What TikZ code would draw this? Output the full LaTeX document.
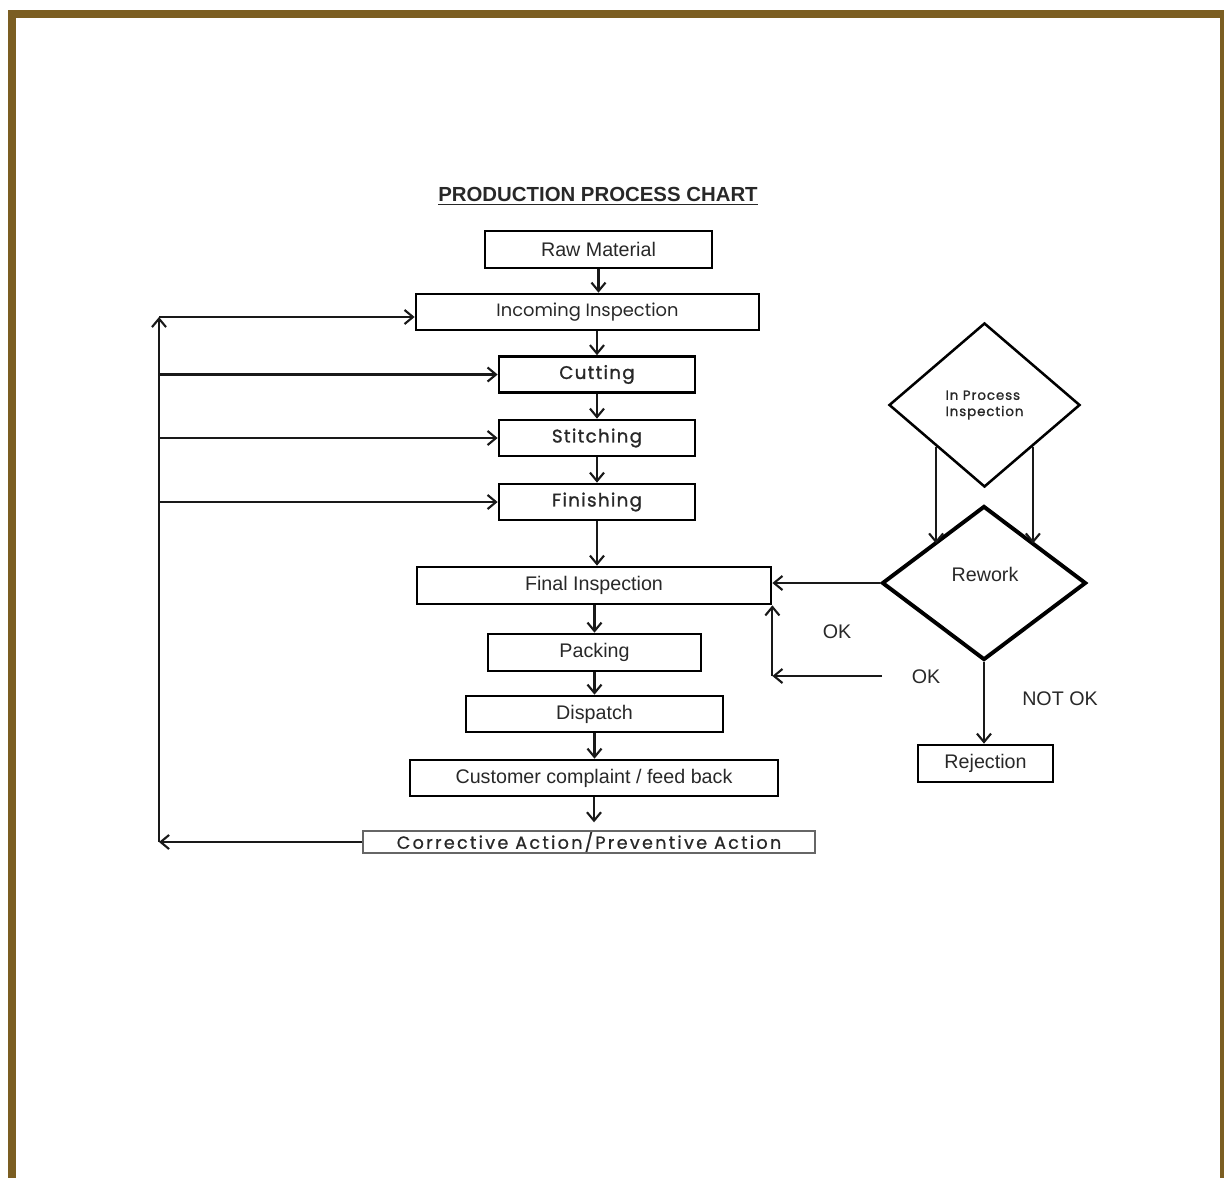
\documentclass[tikz,border=0pt]{standalone}
\usepackage{fontspec}
\setmainfont{Liberation Sans}
\newfontfamily\gothic{Poppins}
\newfontfamily\gothicstep[LetterSpace=7,FakeBold=1.2]{Poppins}
\newfontfamily\gothicwide[LetterSpace=13,FakeBold=0.8]{Poppins}
\usepackage{xcolor}
\usepackage{tikz}
\usetikzlibrary{arrows.meta}
\usetikzlibrary{shapes.geometric,calc}
\definecolor{frame brown}{RGB}{123,94,34}
\definecolor{ink}{RGB}{40,40,40}
\tikzset{
	>={Straight Barb[length=6pt,width=10pt]},
	box/.style = {
			draw            = black,
			line width      = 1.9pt,
			minimum height  = 0.9cm,
			inner sep       = 0pt,
			text            = ink,
			font            = \fontsize{14}{16}\selectfont,
		},
	gothic box/.style = {
			box,
			font            = \gothic\fontsize{12.7}{14}\selectfont,
		},
	step box/.style = {
			box,
			minimum width   = 4.9cm,
			font            = \gothicstep\fontsize{13}{15}\selectfont,
		},
	decision/.style = {
			diamond,
			draw            = black,
			inner sep       = 0pt,
			text            = ink,
		},
	flow/.style = {->, draw=black!90, line width=1.5pt},
	note/.style = {text=ink, font=\fontsize{14}{16}\selectfont},
}

\begin{document}
\begin{tikzpicture}[x=0.025cm,y=-0.025cm]
			% Frame
			\useasboundingbox (0,0) rectangle (1224,1178);
			\fill[frame brown] (8,10) rectangle (1224,18);
			\fill[frame brown] (8,10) rectangle (16,1178);
			\fill[frame brown] (1220,10) rectangle (1224,1178);

			% Main flow
			\node[note,font=\bfseries\fontsize{14.5}{16}\selectfont] (Title) at (598,196)
			{\underline{PRODUCTION PROCESS CHART}};
			\node[box,minimum width=5.675cm,minimum height=0.925cm] (Raw material) at (598.5,249.5) {Raw Material};
			\node[gothic box,minimum width=8.575cm] (Incoming inspection) at (587.5,312) {Incoming Inspection};
			\node[step box] (Cutting) at (597,374.5) {Cutting};
			\node[step box] (Stitching) at (597,438) {Stitching};
			\node[step box] (Finishing) at (597,502) {Finishing};
			\node[box,minimum width=8.85cm,minimum height=0.925cm] (Final inspection) at (594,585.5)
			{Final Inspection};
			\node[box,minimum width=5.325cm,minimum height=0.925cm] (Packing) at (594.5,652.5) {Packing};
			\node[box,minimum width=6.425cm] (Dispatch) at (594.5,714) {Dispatch};
			\node[box,minimum width=9.2cm] (Customer complaint) at (594,778)
			{Customer complaint / feed back};
			\node[box,draw=black!60,line width=1pt,minimum width=11.3cm,minimum height=0.55cm,
				font=\gothicwide\fontsize{12.5}{14}\selectfont]
			(Corrective action) at (589,842) {Corrective Action/Preventive Action};

			% Inspection loop
			\node[decision,line width=1.8pt,minimum width=4.775cm,minimum height=4.1cm,align=left,
				font=\gothicstep\fontsize{9.5}{11.5}\selectfont] (In process) at (984.5,405) {In Process\\Inspection};
			\node[decision,line width=2.8pt,minimum width=5.1cm,minimum height=3.85cm] (Rework) at (984,583) {};
			\node[note] (Rework text) at (985,574) {Rework};
			\node[box,minimum width=3.375cm,minimum height=0.925cm] (Rejection) at (985.5,763.5) {Rejection};

			\node[note] (OK1) at (837,632) {OK};
			\node[note] (OK2) at (926,677) {OK};
			\node[note] (Not ok) at (1060,699) {NOT OK};

			\coordinate (Joint1) at (159,317);
			\coordinate (Joint2) at (Corrective action.west -| Joint1);
			\coordinate (Joint3) at (882,676);
			\coordinate (Joint4) at (Final inspection.east |- Joint3);

			\draw[flow] (Raw material.south) to (Raw material.south |- Incoming inspection.north);
			\draw[flow] (Cutting.north |- Incoming inspection.south) to (Cutting.north);
			\draw[flow] (Cutting.south) to (Stitching.north);
			\draw[flow] (Stitching.south) to (Finishing.north);
			\draw[flow] (Finishing.south) to (Finishing.south |- Final inspection.north);
			\draw[flow] (Packing.north |- Final inspection.south) to (Packing.north);
			\draw[flow] (Packing.south) to (Packing.south |- Dispatch.north);
			\draw[flow] (Dispatch.south) to (Dispatch.south |- Customer complaint.north);
			\draw[flow] (Customer complaint.south) to ($(Customer complaint.south |- Corrective action.north)+(0,-8)$);

			\draw[flow] (Corrective action.west) to (Joint2);
			\draw[flow] (Joint2) to (Joint1);
			\draw[flow] (Joint1) to (Joint1 -| Incoming inspection.west);
			\draw[flow] (Cutting.west -| Joint1) to (Cutting.west);
			\draw[flow] (Stitching.west -| Joint1) to (Stitching.west);
			\draw[flow] (Finishing.west -| Joint1) to (Finishing.west);

			\draw[flow] (In process.south west) to (In process.south west |- Rework.north west);
			\draw[flow] (In process.south east) to (In process.south east |- Rework.north east);
			\draw[flow] (Rework.west) to (Rework.west -| Final inspection.east);
			\draw[flow] (Joint3) to (Joint4);
			\draw[flow] (Joint4) to (Final inspection.south east);
			\draw[flow] (Rework.south) to (Rework.south |- Rejection.north);
		\end{tikzpicture}
\end{document}
